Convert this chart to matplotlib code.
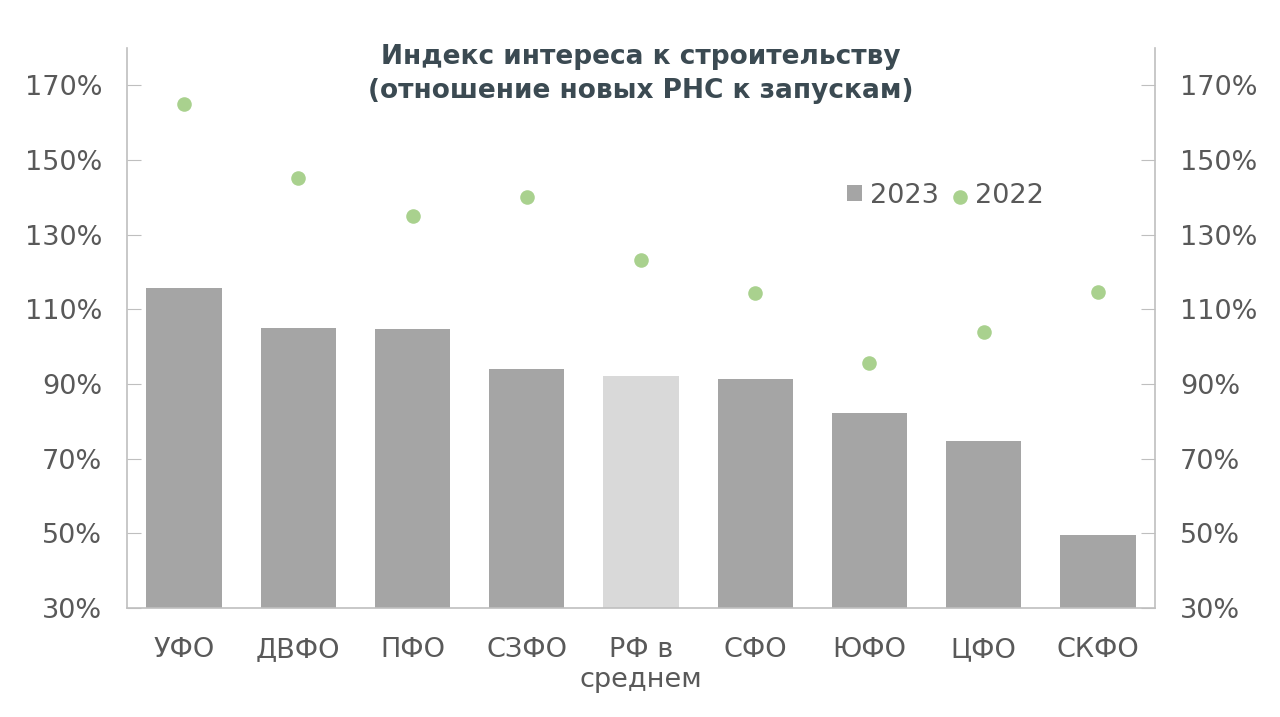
import matplotlib
matplotlib.use("Agg")
import matplotlib.pyplot as plt
import numpy as np

categories = ["УФО", "ДВФО", "ПФО", "СЗФО", "РФ в\nсреднем", "СФО", "ЮФО", "ЦФО", "СКФО"]
values_2023 = [115.6, 105.1, 104.8, 94.1, 92.2, 91.4, 82.3, 74.8, 49.6]
values_2022 = [164.9, 145.3, 134.9, 140.0, 123.1, 114.5, 95.7, 104.0, 114.7]
yticks = [30, 50, 70, 90, 110, 130, 150, 170]

plt.rcParams['font.family'] = ['DejaVu Sans']
text_color = "#595959"
axis_color = "#bfbfbf"
bar_color = "#a5a5a5"
highlight_color = "#d9d9d9"
dot_color = "#a9d18e"

fig = plt.figure(figsize=(12.8, 7.17), dpi=100)
ax = fig.add_axes([127/1280, 1-608/717, (1155-127)/1280, (608-48)/717])

x = np.arange(len(categories))
colors = [highlight_color if c.startswith("РФ") else bar_color for c in categories]
bars = ax.bar(x, [v - 30 for v in values_2023], bottom=30, width=0.66, color=colors, label="2023", zorder=2)
sc = ax.scatter(x, values_2022, s=110, color=dot_color, label="2022", zorder=3, linewidths=0)

ax.set_xlim(-0.5, len(categories) - 0.5)
ax.set_ylim(30, 180)
ax.set_yticks(yticks)
ax.set_yticklabels([f"{t}%" for t in yticks])
ax.set_xticks(x)
ax.set_xticklabels(categories)

ax.spines["top"].set_visible(False)
for s in ["left", "right", "bottom"]:
    ax.spines[s].set_color(axis_color)
    ax.spines[s].set_linewidth(1.2)

ax.tick_params(axis="y", direction="in", length=10, color=axis_color, labelsize=19.5,
               labelcolor=text_color, pad=18, left=True, right=True, labelleft=True, labelright=True)
ax.tick_params(axis="x", length=0, labelsize=19.5, labelcolor=text_color, pad=21)

ax.text(0.5, 1 - (44-48)/560, "Индекс интереса к строительству\n(отношение новых РНС к запускам)",
        transform=ax.transAxes, ha="center", va="top", fontsize=19, fontweight="bold",
        color="#3b4a52", linespacing=1.4)

handles = [bars[1], sc]
leg = ax.legend(handles, ["2023", "2022"], loc="upper left",
                bbox_to_anchor=((836-127)/1028, 1 - (172-48)/560),
                ncol=2, frameon=False, fontsize=19.5, handletextpad=0.3, columnspacing=0.5,
                handlelength=0.55, handleheight=0.55, markerscale=1.0, borderaxespad=0)
for t in leg.get_texts():
    t.set_color(text_color)

fig.savefig("out.png", dpi=100)
